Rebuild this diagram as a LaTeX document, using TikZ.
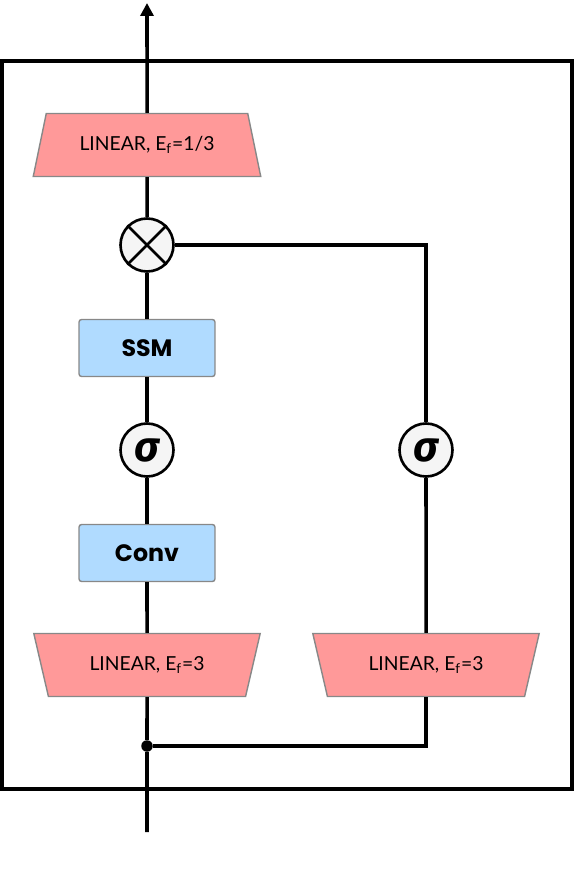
\documentclass[tikz,border=0pt]{standalone}
\usepackage{fontspec}
\setmainfont{Lato}
\newfontfamily\boxfont{Poppins}
\newfontfamily\sigfont{Fira Sans}
\usetikzlibrary{arrows.meta, shapes.geometric}
\definecolor{linpink}{RGB}{255,153,153}
\definecolor{boxblue}{RGB}{176,219,255}
\definecolor{opgray}{RGB}{245,245,245}
\definecolor{edgegray}{RGB}{136,136,136}

\begin{document}
\begin{tikzpicture}[x=0.02cm, y=-0.02cm,
    linear/.style={trapezium, trapezium stretches=true, trapezium left angle=72, trapezium right angle=72,
        minimum width=4.56cm, minimum height=1.26cm, fill=linpink, draw=edgegray, line width=0.8pt,
        font=\fontsize{11}{13}\selectfont},
    block/.style={rectangle, rounded corners=1.5pt, minimum width=2.72cm, minimum height=1.14cm,
        fill=boxblue, draw=edgegray, line width=0.8pt, font=\boxfont\bfseries\fontsize{13.5}{16}\selectfont},
    op/.style={circle, minimum size=1.06cm, inner sep=0pt, fill=opgray, draw=black, line width=1.5pt},
    sig/.style={op, font=\sigfont\bfseries\itshape\fontsize{24}{24}\selectfont},
    wire/.style={line width=2pt}]
    \useasboundingbox (0,0) rectangle (574,869);

    % Outer block
    \draw[line width=2.4pt] (2,61) rectangle (572,789);

    % Main path (left)
    \coordinate (in) at (147,832); % input
    \coordinate (out) at (147,3); % output
    \node[circle, fill=black, inner sep=0pt, minimum size=0.23cm] (dot) at (147,746) {};
    \node[linear, shape border rotate=180] (lin1) at (147,665) {LINEAR, E\textsubscript{f}=3};
    \node[block] (conv) at (147,553) {Conv};
    \node[sig] (sig1) at (147,450) {σ};
    \node[block] (ssm) at (147,348) {SSM};
    \node[op] (mul) at (147,245) {};
    \draw[line width=1.5pt] (mul.north west) -- (mul.south east);
    \draw[line width=1.5pt] (mul.north east) -- (mul.south west);
    \node[linear] (lin3) at (147,145) {LINEAR, E\textsubscript{f}=1/3};

    % Gate path (right)
    \node[linear, shape border rotate=180] (lin2) at (426,665) {LINEAR, E\textsubscript{f}=3};
    \node[sig] (sig2) at (426,450) {σ};

    % Connectors
    \draw[wire] (in) -- (dot) -- (lin1) -- (conv) -- (sig1) -- (ssm) -- (mul) -- (lin3);
    \draw[wire, -{Triangle[length=0.26cm, width=0.26cm]}] (lin3) -- (out);
    \draw[wire] (dot) -| (lin2);
    \draw[wire] (lin2) -- (sig2);
    \draw[wire] (sig2) |- (mul);
\end{tikzpicture}
\end{document}
